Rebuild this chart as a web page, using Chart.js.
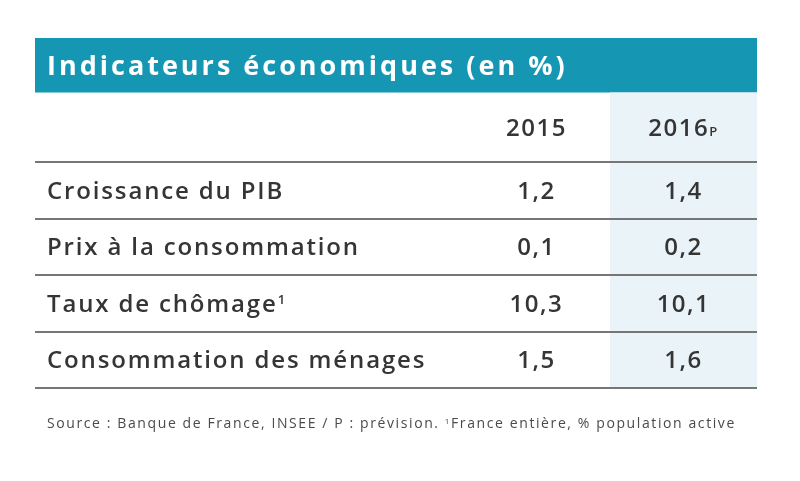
<!DOCTYPE html>
<html lang="fr">
<head>
<meta charset="utf-8">
<title>Indicateurs économiques (en %)</title>
<script src="https://cdn.jsdelivr.net/npm/chart.js@4"></script>
<style>
  html, body { margin: 0; padding: 0; background: #fff; }
  #tableChart { display: block; }
</style>
</head>
<body>
<canvas id="tableChart" width="800" height="481"></canvas>
<script>
// Data
const title = 'Indicateurs économiques (en %)';
const years = ['2015', '2016'];
const yearMarks = ['', 'P'];
const indicators = ['Croissance du PIB', 'Prix à la consommation', 'Taux de chômage', 'Consommation des ménages'];
const indicatorNotes = ['', '', '1', ''];
const values2015 = [1.2, 0.1, 10.3, 1.5];
const values2016 = [1.4, 0.2, 10.1, 1.6];
const sourceText = 'Source : Banque de France, INSEE / P : prévision. ';
const sourceNote = '1';
const sourceNoteText = 'France entière, % population active';

// Layout in scale units (rows of 1, columns of 1)
const labelCol = -2.91;     // left edge of the label column
const headerBand = -1.23;   // header row starts here
const titleBand = -2.195;   // top of the teal title bar
const sourceRow = 4.62;

const TEXT = '#353535';
const fmt = v => v.toLocaleString('fr-FR', { minimumFractionDigits: 1, maximumFractionDigits: 1 });

// Build one text dataset per column
const datasets = [
  {
    label: 'titre',
    data: [{ x: labelCol, y: (titleBand + headerBand) / 2 }],
    texts: [title], notes: [''],
    align: 'left', inset: 12,
    font: '700 27px "Open Sans"', spacing: 3, color: '#ffffff'
  },
  {
    label: 'années',
    data: years.map((_, j) => ({ x: j + 0.5, y: headerBand / 2 })),
    texts: years, notes: yearMarks, noteKind: 'sub',
    align: 'center', font: '600 24px "Open Sans"', spacing: 1.5, color: TEXT
  },
  {
    label: 'indicateurs',
    data: indicators.map((_, i) => ({ x: labelCol, y: i + 0.5 })),
    texts: indicators, notes: indicatorNotes, noteKind: 'sup',
    align: 'left', inset: 12,
    font: '600 24px "Open Sans"', spacing: 1.85, color: TEXT
  },
  {
    label: '2015',
    data: values2015.map((_, i) => ({ x: 0.5, y: i + 0.5 })),
    texts: values2015.map(fmt), notes: values2015.map(() => ''),
    align: 'center', font: '600 24px "Open Sans"', spacing: 1.5, color: TEXT
  },
  {
    label: '2016P',
    data: values2016.map((_, i) => ({ x: 1.5, y: i + 0.5 })),
    texts: values2016.map(fmt), notes: values2016.map(() => ''),
    align: 'center', font: '600 24px "Open Sans"', spacing: 1.5, color: TEXT
  },
  {
    label: 'source',
    data: [{ x: labelCol, y: sourceRow }],
    texts: [sourceText], notes: [sourceNote], noteKind: 'sup', tail: [sourceNoteText],
    align: 'left', inset: 12,
    font: '500 14px "Open Sans"', spacing: 1.6, color: '#4a4a4a'
  }
];

function fontSize(font) {
  return parseFloat(font.match(/([\d.]+)px/)[1]);
}

// Draw a text with an optional small note (superscript or small subscript capital)
function drawCell(ctx, ds, pt, j) {
  const size = fontSize(ds.font);
  const noteFont = ds.font.replace(/[\d.]+px/, Math.round(size * 0.55) + 'px');
  const text = ds.texts[j];
  const note = ds.notes[j] || '';
  const tail = ds.tail ? ds.tail[j] : '';

  ctx.save();
  ctx.fillStyle = ds.color;
  ctx.textAlign = 'left';
  ctx.textBaseline = 'alphabetic';
  ctx.letterSpacing = ds.spacing + 'px';

  ctx.font = ds.font;
  const w1 = ctx.measureText(text).width;
  const w3 = tail ? ctx.measureText(tail).width : 0;
  ctx.font = noteFont;
  const w2 = note ? ctx.measureText(note).width : 0;
  const total = w1 + w2 + w3;

  let x = pt.x + (ds.inset || 0);
  if (ds.align === 'center') x = pt.x - total / 2;
  const base = pt.y + size * 0.36;

  ctx.font = ds.font;
  ctx.fillText(text, x, base);
  if (note) {
    ctx.font = noteFont;
    const lift = ds.noteKind === 'sup' ? size * 0.32 : 0;
    ctx.fillText(note, x + w1, base - lift);
  }
  if (tail) {
    ctx.font = ds.font;
    ctx.fillText(tail, x + w1 + w2, base);
  }
  ctx.restore();
}

const tablePlugin = {
  id: 'tablePlugin',
  beforeDraw(chart) {
    const { ctx, scales: { x, y } } = chart;
    const left = x.getPixelForValue(x.min);
    const right = x.getPixelForValue(x.max);
    const top = y.getPixelForValue(titleBand);
    const headTop = y.getPixelForValue(headerBand);
    const bottom = y.getPixelForValue(indicators.length);

    ctx.save();
    // teal title bar
    ctx.fillStyle = '#1597b4';
    ctx.fillRect(left, top, right - left, headTop - top);
    // forecast column
    ctx.fillStyle = '#eaf4f8';
    const c0 = x.getPixelForValue(1);
    const c1 = x.getPixelForValue(2);
    ctx.fillRect(c0, headTop, c1 - c0, bottom - headTop);
    ctx.restore();
  },
  afterDatasetsDraw(chart) {
    const ctx = chart.ctx;
    chart.data.datasets.forEach((ds, i) => {
      const meta = chart.getDatasetMeta(i);
      meta.data.forEach((pt, j) => drawCell(ctx, ds, pt, j));
    });
  }
};

new Chart(document.getElementById('tableChart'), {
  type: 'scatter',
  data: { datasets: datasets },
  options: {
    responsive: false,
    animation: false,
    events: [],
    layout: { padding: { top: 38, bottom: 93, left: 35, right: 43 } },
    elements: { point: { radius: 0 } },
    plugins: {
      legend: { display: false },
      tooltip: { enabled: false }
    },
    scales: {
      x: { type: 'linear', min: labelCol, max: 2, display: false },
      y: {
        type: 'linear',
        reverse: true,
        min: titleBand,
        max: indicators.length,
        afterBuildTicks: s => { s.ticks = indicators.map((_, i) => ({ value: i })).concat([{ value: indicators.length }]); },
        grid: { color: '#767676', lineWidth: 2, drawTicks: false },
        border: { display: false },
        ticks: { display: false }
      }
    }
  },
  plugins: [tablePlugin]
});
</script>
</body>
</html>
